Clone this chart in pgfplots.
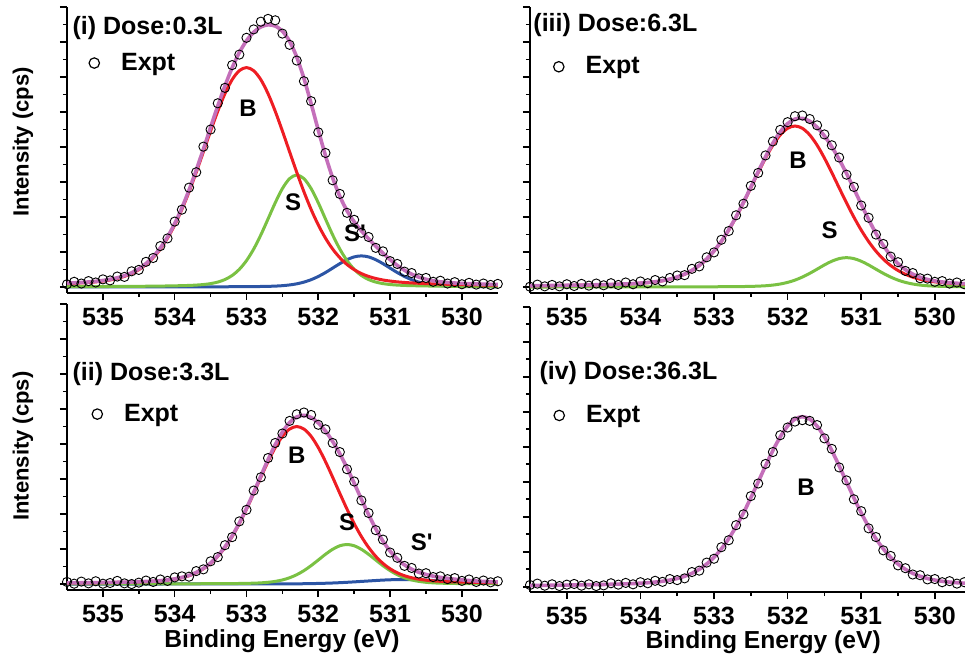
\documentclass[border=0pt]{standalone}
\usepackage{fontspec}
\setmainfont{Liberation Sans}
\usepackage{pgfplots}
\usepackage{pgfplotstable}
\pgfplotsset{compat=1.18}

\definecolor{cB}{HTML}{EE1D23}
\definecolor{cS}{HTML}{7AC143}
\definecolor{cSp}{HTML}{2C55A5}
\definecolor{cSum}{HTML}{C46FBA}

\newcommand{\fT}{\bfseries\fontsize{12.5}{14}\selectfont}
\newcommand{\fL}{\bfseries\fontsize{12}{14}\selectfont}

% Panel (i): x B S Sp Sum E
\pgfplotstableread{
x B S Sp Sum E
535.5 0.099 0.010 0.002 0.111 0.08
535.4 0.107 0.011 0.002 0.120 0.15
535.3 0.118 0.012 0.002 0.132 0.10
535.2 0.131 0.012 0.002 0.145 0.17
535.1 0.148 0.013 0.002 0.163 0.13
535.0 0.171 0.014 0.002 0.187 0.22
534.9 0.202 0.016 0.002 0.220 0.19
534.8 0.245 0.017 0.002 0.264 0.30
534.7 0.304 0.018 0.003 0.325 0.29
534.6 0.385 0.020 0.003 0.408 0.45
534.5 0.496 0.021 0.003 0.520 0.49
534.4 0.643 0.023 0.004 0.670 0.72
534.3 0.838 0.026 0.004 0.868 0.83
534.2 1.086 0.028 0.004 1.118 1.17
534.1 1.397 0.031 0.004 1.432 1.39
534.0 1.774 0.035 0.004 1.813 1.87
533.9 2.217 0.040 0.005 2.262 2.21
533.8 2.722 0.046 0.005 2.773 2.84
533.7 3.278 0.056 0.005 3.339 3.28
533.6 3.865 0.072 0.006 3.943 4.01
533.5 4.457 0.098 0.007 4.562 4.50
533.4 5.023 0.142 0.007 5.172 5.25
533.3 5.525 0.214 0.008 5.747 5.69
533.2 5.924 0.330 0.009 6.263 6.34
533.1 6.181 0.506 0.010 6.697 6.64
533.0 6.270 0.755 0.011 7.036 7.12
532.9 6.181 1.085 0.013 7.279 7.36
532.8 5.924 1.490 0.016 7.430 7.58
532.7 5.525 1.945 0.020 7.490 7.66
532.6 5.023 2.406 0.027 7.456 7.62
532.5 4.457 2.813 0.039 7.309 7.24
532.4 3.865 3.097 0.060 7.022 6.92
532.3 3.278 3.200 0.092 6.570 6.47
532.2 2.722 3.097 0.141 5.960 5.88
532.1 2.217 2.813 0.210 5.240 5.31
532.0 1.774 2.406 0.302 4.482 4.42
531.9 1.397 1.945 0.414 3.756 3.83
531.8 1.086 1.490 0.541 3.117 3.05
531.7 0.838 1.085 0.669 2.592 2.66
531.6 0.643 0.755 0.782 2.180 2.12
531.5 0.496 0.506 0.861 1.863 1.92
531.4 0.385 0.330 0.890 1.605 1.55
531.3 0.304 0.214 0.861 1.379 1.43
531.2 0.245 0.142 0.782 1.169 1.12
531.1 0.202 0.098 0.669 0.969 1.02
531.0 0.171 0.072 0.541 0.784 0.74
530.9 0.148 0.056 0.414 0.618 0.66
530.8 0.131 0.046 0.302 0.479 0.44
530.7 0.118 0.040 0.210 0.368 0.40
530.6 0.107 0.035 0.141 0.283 0.25
530.5 0.099 0.031 0.092 0.222 0.26
530.4 0.091 0.028 0.060 0.179 0.15
530.3 0.084 0.026 0.039 0.149 0.18
530.2 0.079 0.023 0.027 0.129 0.10
530.1 0.074 0.021 0.020 0.115 0.14
530.0 0.069 0.020 0.016 0.105 0.08
529.9 0.065 0.018 0.013 0.096 0.12
529.8 0.061 0.017 0.011 0.089 0.07
529.7 0.058 0.016 0.010 0.084 0.10
529.6 0.055 0.014 0.009 0.078 0.06
529.5 0.052 0.013 0.008 0.073 0.09
}\tabi

% Panel (iii): x B S Sum E
\pgfplotstableread{
x B S Sum E
535.5 0.036 0.001 0.037 0.01
535.4 0.038 0.001 0.039 0.07
535.3 0.040 0.001 0.041 0.02
535.2 0.042 0.002 0.044 0.06
535.1 0.045 0.002 0.047 0.02
535.0 0.048 0.002 0.050 0.08
534.9 0.051 0.002 0.053 0.03
534.8 0.054 0.002 0.056 0.09
534.7 0.058 0.003 0.061 0.04
534.6 0.062 0.003 0.065 0.10
534.5 0.067 0.003 0.070 0.05
534.4 0.072 0.003 0.075 0.11
534.3 0.079 0.003 0.082 0.06
534.2 0.087 0.003 0.090 0.13
534.1 0.096 0.003 0.099 0.08
534.0 0.109 0.004 0.113 0.16
533.9 0.126 0.004 0.130 0.11
533.8 0.148 0.004 0.152 0.20
533.7 0.180 0.004 0.184 0.16
533.6 0.223 0.005 0.228 0.26
533.5 0.283 0.005 0.288 0.33
533.4 0.364 0.006 0.370 0.34
533.3 0.472 0.006 0.478 0.52
533.2 0.615 0.007 0.622 0.59
533.1 0.797 0.007 0.804 0.85
533.0 1.025 0.008 1.033 0.99
532.9 1.301 0.009 1.310 1.35
532.8 1.627 0.010 1.637 1.60
532.7 1.997 0.012 2.009 2.05
532.6 2.405 0.015 2.420 2.38
532.5 2.835 0.019 2.854 2.89
532.4 3.270 0.026 3.296 3.26
532.3 3.685 0.037 3.722 3.76
532.2 4.054 0.056 4.110 4.16
532.1 4.346 0.087 4.433 4.49
532.0 4.535 0.133 4.668 4.71
531.9 4.600 0.198 4.798 4.88
531.8 4.535 0.285 4.820 4.90
531.7 4.346 0.391 4.737 4.80
531.6 4.054 0.510 4.564 4.62
531.5 3.685 0.632 4.317 4.36
531.4 3.270 0.738 4.008 4.05
531.3 2.835 0.813 3.648 3.70
531.2 2.405 0.840 3.245 3.21
531.1 1.997 0.813 2.810 2.86
531.0 1.627 0.738 2.365 2.33
530.9 1.301 0.632 1.933 1.98
530.8 1.025 0.510 1.535 1.50
530.7 0.797 0.391 1.188 1.23
530.6 0.615 0.285 0.900 0.87
530.5 0.472 0.198 0.670 0.71
530.4 0.364 0.133 0.497 0.46
530.3 0.283 0.087 0.370 0.40
530.2 0.223 0.056 0.279 0.25
530.1 0.180 0.037 0.217 0.24
530.0 0.148 0.026 0.174 0.15
529.9 0.126 0.019 0.145 0.17
529.8 0.109 0.015 0.124 0.10
529.7 0.096 0.012 0.108 0.13
529.6 0.087 0.010 0.097 0.08
529.5 0.079 0.009 0.088 0.10
}\tabiii

% Panel (ii): x B S Sp Sum E
\pgfplotstableread{
x B S Sp Sum E
535.5 0.029 0.002 0.001 0.032 0.06
535.4 0.031 0.002 0.001 0.034 0.01
535.3 0.033 0.002 0.001 0.036 0.07
535.2 0.035 0.002 0.001 0.038 0.02
535.1 0.037 0.003 0.001 0.041 0.08
535.0 0.040 0.003 0.001 0.044 0.01
534.9 0.043 0.003 0.001 0.047 0.03
534.8 0.046 0.003 0.001 0.050 0.09
534.7 0.050 0.003 0.001 0.054 0.02
534.6 0.055 0.003 0.001 0.059 0.00
534.5 0.061 0.004 0.001 0.066 0.04
534.4 0.068 0.004 0.001 0.073 0.10
534.3 0.078 0.004 0.001 0.083 0.06
534.2 0.091 0.004 0.001 0.096 0.13
534.1 0.111 0.006 0.002 0.119 0.09
534.0 0.139 0.006 0.002 0.147 0.19
533.9 0.180 0.007 0.002 0.189 0.22
533.8 0.238 0.008 0.002 0.248 0.21
533.7 0.321 0.008 0.002 0.331 0.37
533.6 0.436 0.009 0.003 0.448 0.42
533.5 0.590 0.010 0.003 0.603 0.65
533.4 0.792 0.011 0.003 0.806 0.77
533.3 1.047 0.012 0.003 1.062 1.11
533.2 1.358 0.014 0.004 1.376 1.34
533.1 1.725 0.016 0.004 1.745 1.79
533.0 2.140 0.020 0.004 2.164 2.12
532.9 2.589 0.025 0.004 2.618 2.67
532.8 3.051 0.034 0.004 3.089 3.05
532.7 3.498 0.050 0.004 3.552 3.60
532.6 3.899 0.076 0.004 3.979 4.03
532.5 4.220 0.117 0.004 4.341 4.30
532.4 4.428 0.179 0.005 4.612 4.66
532.3 4.500 0.267 0.007 4.774 4.85
532.2 4.428 0.383 0.009 4.820 4.90
532.1 4.220 0.526 0.013 4.759 4.83
532.0 3.899 0.687 0.017 4.603 4.55
531.9 3.498 0.850 0.023 4.371 4.42
531.8 3.051 0.993 0.030 4.074 4.03
531.7 2.589 1.094 0.039 3.722 3.77
531.6 2.140 1.130 0.050 3.320 3.28
531.5 1.725 1.094 0.062 2.881 2.93
531.4 1.358 0.993 0.075 2.426 2.39
531.3 1.047 0.850 0.088 1.985 2.03
531.2 0.792 0.687 0.101 1.580 1.54
531.1 0.590 0.526 0.113 1.229 1.27
531.0 0.436 0.383 0.122 0.941 0.90
530.9 0.321 0.267 0.128 0.716 0.75
530.8 0.238 0.179 0.130 0.547 0.52
530.7 0.180 0.117 0.128 0.425 0.46
530.6 0.139 0.076 0.122 0.337 0.30
530.5 0.111 0.050 0.113 0.274 0.31
530.4 0.091 0.034 0.101 0.226 0.20
530.3 0.078 0.025 0.088 0.191 0.22
530.2 0.068 0.020 0.075 0.163 0.14
530.1 0.061 0.016 0.062 0.139 0.17
530.0 0.055 0.014 0.050 0.119 0.09
529.9 0.050 0.012 0.039 0.101 0.13
529.8 0.046 0.011 0.030 0.087 0.06
529.7 0.043 0.010 0.023 0.076 0.10
529.6 0.040 0.009 0.017 0.066 0.05
529.5 0.037 0.008 0.013 0.058 0.08
}\tabii

% Panel (iv): x B E
\pgfplotstableread{
x B E
535.5 0.036 0.05
535.4 0.038 0.09
535.3 0.040 0.03
535.2 0.042 0.07
535.1 0.045 0.02
535.0 0.047 0.06
534.9 0.050 0.08
534.8 0.054 0.03
534.7 0.057 0.07
534.6 0.061 0.02
534.5 0.065 0.04
534.4 0.071 0.10
534.3 0.076 0.06
534.2 0.083 0.11
534.1 0.091 0.07
534.0 0.102 0.13
533.9 0.115 0.10
533.8 0.133 0.17
533.7 0.157 0.14
533.6 0.190 0.22
533.5 0.236 0.19
533.4 0.299 0.24
533.3 0.384 0.42
533.2 0.499 0.46
533.1 0.649 0.69
533.0 0.842 0.80
532.9 1.083 1.13
532.8 1.375 1.33
532.7 1.719 1.76
532.6 2.110 2.07
532.5 2.541 2.59
532.4 2.995 2.95
532.3 3.455 3.51
532.2 3.894 3.85
532.1 4.283 4.33
532.0 4.591 4.55
531.9 4.791 4.72
531.8 4.860 4.76
531.7 4.791 4.74
531.6 4.591 4.62
531.5 4.283 4.24
531.4 3.894 3.94
531.3 3.455 3.41
531.2 2.995 3.04
531.1 2.541 2.50
531.0 2.110 2.16
530.9 1.719 1.67
530.8 1.375 1.42
530.7 1.083 1.04
530.6 0.842 0.88
530.5 0.649 0.61
530.4 0.499 0.53
530.3 0.384 0.35
530.2 0.299 0.33
530.1 0.236 0.21
530.0 0.190 0.22
529.9 0.157 0.13
529.8 0.133 0.16
529.7 0.115 0.09
529.6 0.102 0.13
529.5 0.091 0.08
}\tabiv

\pgfplotsset{
  xpsaxis/.style={
    scale only axis, x dir=reverse,
    axis lines*=left,
    axis line style={line width=1pt, black},
    every tick/.style={black, line width=0.8pt},
    tick align=outside,
    major tick length=3.5pt, minor tick length=2pt,
    xtick={530,531,532,533,534,535}, minor x tick num=1,
    ytick={0,1,2,3,4,5,6,7,8}, minor y tick num=1, yticklabels={},
    ymax=8,
    /pgf/number format/assume math mode=true,
    xticklabel style={font=\fT, yshift=-0.5pt},
    legend style={draw=none, fill=none, inner sep=0pt, font=\fT, legend cell align=left},
    legend image code/.code={\draw[black, line width=0.6pt, fill=none] (2.6pt,0) circle (2.6pt); \path[draw=none, fill=none] (0,0) -- (14pt,0);},
  },
  curve/.style={line width=1.5pt, smooth, no markers, forget plot},
  expt/.style={only marks, mark=o, mark size=2.3pt, black, mark options={line width=0.45pt, fill=none}},
}

\begin{document}
\begin{tikzpicture}
\path[use as bounding box] (0,0) rectangle (482.5pt,327pt);

% ---------- Panel (i) ----------
\begin{axis}[xpsaxis, at={(33.5pt,180.5pt)}, anchor=south west,
  width=215.4pt, height=143pt, xmin=529.5, xmax=535.5, ymin=-0.17,
  ylabel={Intensity (cps)},
  ylabel style={font=\bfseries\fontsize{11}{13}\selectfont, at={(axis description cs:-0.102,0.528)}, anchor=center},
  legend style={at={(axis description cs:0.049,0.804)}, anchor=west}]
\addplot[expt] table[x=x,y=E]{\tabi};
\addlegendentry{Expt}
\addplot[curve, cSp] table[x=x,y=Sp]{\tabi};
\addplot[curve, cS] table[x=x,y=S]{\tabi};
\addplot[curve, cB] table[x=x,y=B]{\tabi};
\addplot[curve, cSum, line width=1.8pt] table[x=x,y=Sum]{\tabi};
\node[anchor=west, inner sep=0pt, font=\fT] at (axis description cs:0.012,0.927) {(i) Dose:0.3L};
\node[inner sep=0pt, font=\fL] at (axis cs:532.98,5.11) {B};
\node[inner sep=0pt, font=\fL] at (axis cs:532.35,2.43) {S};
\node[inner sep=0pt, font=\fL] at (axis cs:531.49,1.54) {S\textquotesingle};
\end{axis}

% ---------- Panel (iii) ----------
\begin{axis}[xpsaxis, at={(265pt,180.5pt)}, anchor=south west,
  width=217.5pt, height=143pt, xmin=529.59, xmax=535.5, ymin=-0.17,
  legend style={at={(axis description cs:0.052,0.791)}, anchor=west}]
\addplot[expt] table[x=x,y=E]{\tabiii};
\addlegendentry{Expt}
\addplot[curve, cS] table[x=x,y=S]{\tabiii};
\addplot[curve, cB] table[x=x,y=B]{\tabiii};
\addplot[curve, cSum, line width=1.8pt] table[x=x,y=Sum]{\tabiii};
\node[anchor=west, inner sep=0pt, font=\fT] at (axis description cs:0.007,0.937) {(iii) Dose:6.3L};
\node[inner sep=0pt, font=\fL] at (axis cs:531.86,3.62) {B};
\node[inner sep=0pt, font=\fL] at (axis cs:531.43,1.62) {S};
\end{axis}

% ---------- Panel (ii) ----------
\begin{axis}[xpsaxis, at={(33.5pt,32pt)}, anchor=south west,
  width=215.4pt, height=143pt, xmin=529.5, xmax=535.5, ymin=-0.17,
  ylabel={Intensity (cps)},
  ylabel style={font=\bfseries\fontsize{11}{13}\selectfont, at={(axis description cs:-0.102,0.503)}, anchor=center},
  xlabel={Binding Energy (eV)},
  xlabel style={font=\bfseries\fontsize{12.3}{14}\selectfont, at={(axis description cs:0.499,-0.179)}, anchor=center},
  legend style={at={(axis description cs:0.056,0.615)}, anchor=west}]
\addplot[expt] table[x=x,y=E]{\tabii};
\addlegendentry{Expt}
\addplot[curve, cSp] table[x=x,y=Sp]{\tabii};
\addplot[curve, cS] table[x=x,y=S]{\tabii};
\addplot[curve, cB] table[x=x,y=B]{\tabii};
\addplot[curve, cSum, line width=1.8pt] table[x=x,y=Sum]{\tabii};
\node[anchor=west, inner sep=0pt, font=\fT] at (axis description cs:0.012,0.755) {(ii) Dose:3.3L};
\node[inner sep=0pt, font=\fL] at (axis cs:532.30,3.69) {B};
\node[inner sep=0pt, font=\fL] at (axis cs:531.60,1.77) {S};
\node[inner sep=0pt, font=\fL] at (axis cs:530.56,1.20) {S\textquotesingle};
\end{axis}

% ---------- Panel (iv) ----------
\begin{axis}[xpsaxis, at={(265pt,31pt)}, anchor=south west,
  width=217.5pt, height=142.6pt, xmin=529.59, xmax=535.5, ymin=-0.15,
  xlabel={Binding Energy (eV)},
  xlabel style={font=\bfseries\fontsize{12.3}{14}\selectfont, at={(axis description cs:0.536,-0.176)}, anchor=center},
  legend style={at={(axis description cs:0.053,0.619)}, anchor=west}]
\addplot[expt] table[x=x,y=E]{\tabiv};
\addlegendentry{Expt}
\addplot[curve, cSum, line width=1.8pt] table[x=x,y=B]{\tabiv};
\node[anchor=west, inner sep=0pt, font=\fT] at (axis description cs:0.021,0.769) {(iv) Dose:36.3L};
\node[inner sep=0pt, font=\fL] at (axis cs:531.75,2.85) {B};
\end{axis}
\end{tikzpicture}
\end{document}
